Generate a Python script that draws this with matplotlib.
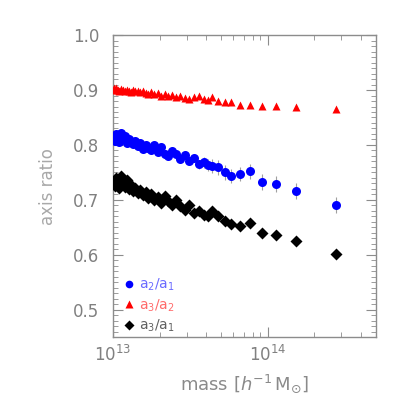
import numpy as np
import matplotlib
matplotlib.use('Agg')
import matplotlib.pyplot as plt
from matplotlib.ticker import MultipleLocator, LogLocator, NullFormatter, FormatStrFormatter
from matplotlib.lines import Line2D

# halo mass bins (units of 1e13 h^-1 Msun)
mass = [1.01, 1.023, 1.047, 1.072, 1.099, 1.127, 1.159, 1.191, 1.227, 1.265,
        1.306, 1.349, 1.396, 1.445, 1.500, 1.560, 1.626, 1.694, 1.770, 1.854,
        1.945, 2.046, 2.158, 2.280, 2.415, 2.564, 2.729, 2.911, 3.112, 3.334,
        3.581, 3.855, 4.111, 4.385, 4.753, 5.272, 5.821, 6.622, 7.691, 9.141,
        11.32, 15.38, 27.93]

# a3/a2
ratio_32 = [0.903, 0.901, 0.904, 0.900, 0.899, 0.902, 0.900, 0.898, 0.901, 0.899,
            0.897, 0.900, 0.898, 0.899, 0.896, 0.898, 0.895, 0.893, 0.896, 0.892,
            0.894, 0.890, 0.892, 0.889, 0.891, 0.887, 0.889, 0.886, 0.883, 0.887,
            0.889, 0.884, 0.881, 0.888, 0.880, 0.879, 0.878, 0.873, 0.872, 0.871,
            0.871, 0.869, 0.866]

# a2/a1
ratio_21 = [0.815, 0.808, 0.820, 0.812, 0.805, 0.822, 0.810, 0.816, 0.803, 0.811,
            0.806, 0.801, 0.808, 0.798, 0.803, 0.793, 0.800, 0.795, 0.790, 0.799,
            0.788, 0.796, 0.784, 0.779, 0.789, 0.783, 0.775, 0.781, 0.771, 0.777,
            0.765, 0.768, 0.764, 0.762, 0.759, 0.750, 0.744, 0.747, 0.752, 0.732,
            0.729, 0.716, 0.691]

err_21 = [0.005] * 30 + [0.008, 0.010, 0.011, 0.013, 0.014, 0.014, 0.013, 0.013,
                         0.014, 0.015, 0.015, 0.015, 0.015]

# a3/a1
ratio_31 = [0.735, 0.726, 0.740, 0.730, 0.722, 0.743, 0.731, 0.724, 0.736, 0.720,
            0.727, 0.716, 0.722, 0.712, 0.718, 0.708, 0.714, 0.703, 0.710, 0.699,
            0.705, 0.694, 0.707, 0.697, 0.690, 0.700, 0.688, 0.682, 0.690, 0.676,
            0.680, 0.673, 0.671, 0.679, 0.671, 0.661, 0.656, 0.653, 0.657, 0.639,
            0.636, 0.625, 0.601]

labels = ['a$_2$/a$_1$', 'a$_3$/a$_2$', 'a$_3$/a$_1$']
text_colors = ['#6a6aff', '#ff6a6a', '#606060']

m = np.array(mass) * 1e13

fig = plt.figure(figsize=(4.09, 4.09), dpi=100)
ax = fig.add_axes([0.2763, 0.176, 0.642, 0.738])

ax.errorbar(m, ratio_21, yerr=err_21, fmt='none', ecolor='#a0a0a0', elinewidth=0.8, zorder=1)
ax.plot(m, ratio_21, 'o', color='blue', ms=6.5, mec='none', zorder=3)
ax.plot(m, ratio_32, '^', color='red', ms=6.0, mec='none', zorder=3)
ax.plot(m, ratio_31, 'D', color='black', ms=5.8, mec='none', zorder=3)

ax.set_xscale('log')
ax.set_xlim(1e13, 5e14)
ax.set_ylim(0.45, 1.0)

ax.yaxis.set_major_locator(MultipleLocator(0.1))
ax.yaxis.set_minor_locator(MultipleLocator(0.01))
ax.yaxis.set_major_formatter(FormatStrFormatter('%.1f'))
ax.xaxis.set_minor_locator(LogLocator(base=10, subs=np.arange(2, 10)))
ax.xaxis.set_minor_formatter(NullFormatter())

gray = '#8c8c8c'
for s in ax.spines.values():
    s.set_color(gray)
    s.set_linewidth(1.0)
ax.tick_params(which='both', direction='in', top=True, right=True, color=gray)
ax.tick_params(which='major', length=7, labelsize=12, labelcolor='#808080')
ax.tick_params(which='minor', length=3.5)
ax.tick_params(axis='y', which='major', pad=10)
ax.tick_params(axis='x', which='major', pad=6)

ax.set_xlabel(r'mass $[h^{-1}\,\mathrm{M}_{\odot}]$', fontsize=13, color='#8a8a8a', labelpad=5)
ax.set_ylabel('axis ratio', fontsize=12, color='#a8a8a8', labelpad=11)

handles = [Line2D([], [], ls='none', marker='o', color='blue', ms=5.5, mec='none'),
           Line2D([], [], ls='none', marker='^', color='red', ms=5.5, mec='none'),
           Line2D([], [], ls='none', marker='D', color='black', ms=4.8, mec='none')]
leg = ax.legend(handles, labels, loc='lower left', bbox_to_anchor=(0.02, -0.01),
                frameon=False, fontsize=10, handlelength=0.8, handletextpad=0.3,
                labelspacing=0.32, borderaxespad=0.0)
for t, c in zip(leg.get_texts(), text_colors):
    t.set_color(c)

fig.savefig('out.png', dpi=100)
